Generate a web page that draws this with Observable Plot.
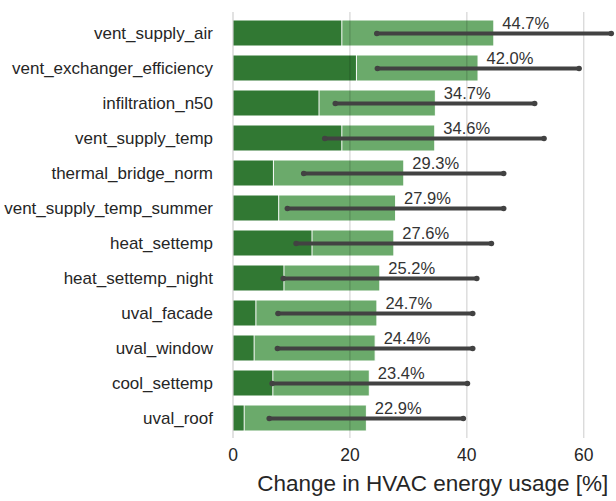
<!DOCTYPE html>
<html>
<head>
<meta charset="utf-8">
<script src="https://cdn.jsdelivr.net/npm/d3@7"></script>
<script src="https://cdn.jsdelivr.net/npm/@observablehq/plot@0.6"></script>
<style>
  html, body { margin: 0; padding: 0; background: white; overflow: hidden; }
  #chart svg { display: block; }
</style>
</head>
<body>
<div id="chart"></div>
<script>
// Parameters, ordered by total HVAC effect
const parameters = [
  "vent_supply_air", "vent_exchanger_efficiency", "infiltration_n50", "vent_supply_temp",
  "thermal_bridge_norm", "vent_supply_temp_summer", "heat_settemp", "heat_settemp_night",
  "uval_facade", "uval_window", "cool_settemp", "uval_roof"
];
// Total change (light bars, labelled)
const totalChange = [44.7, 42.0, 34.7, 34.6, 29.3, 27.9, 27.6, 25.2, 24.7, 24.4, 23.4, 22.9];
// Direct part of the change (dark bars)
const directChange = [18.7, 21.2, 14.8, 18.7, 7.0, 7.9, 13.6, 8.8, 4.0, 3.7, 6.9, 2.0];
// Spread of the change (error bars)
const spreadLow = [24.6, 24.7, 17.5, 15.7, 12.1, 9.3, 10.8, 8.6, 7.7, 7.6, 6.7, 6.2];
const spreadHigh = [64.7, 59.2, 51.6, 53.2, 46.3, 46.3, 44.2, 41.7, 41.0, 41.0, 40.1, 39.4];
const xTicks = [0, 20, 40, 60];
const xLabel = "Change in HVAC energy usage [%]";

const rows = parameters.map((name, i) => ({
  name, total: totalChange[i], direct: directChange[i], lo: spreadLow[i], hi: spreadHigh[i]
}));
// Error-bar end points, drawn as round caps
const ends = rows.flatMap(d => [{ name: d.name, x: d.lo }, { name: d.name, x: d.hi }]);

const chart = Plot.plot({
  width: 616,
  height: 501,
  marginLeft: 232.5,
  marginRight: 0,
  marginTop: 12,
  marginBottom: 63,
  style: { fontFamily: "'Liberation Sans', Arial, sans-serif", background: "white", color: "#262626" },
  x: { domain: [0, 65.6] },
  y: { domain: parameters, paddingInner: 0.26, paddingOuter: 0.14 },
  marks: [
    Plot.barX(rows, { x: "total", y: "name", fill: "#6baa6b", stroke: "white", strokeWidth: 1 }),
    Plot.barX(rows, { x: "direct", y: "name", fill: "#317833", stroke: "white", strokeWidth: 1 }),
    Plot.gridX(xTicks.filter(t => t > 0), { stroke: "#000", strokeOpacity: 0.17, strokeWidth: 1.2 }),
    Plot.ruleX([0], { stroke: "#cfcfcf", strokeWidth: 1.2 }),
    Plot.link(rows, {
      x1: "lo", x2: "hi", y1: "name", y2: "name",
      stroke: "#424242", strokeWidth: 4, strokeLinecap: "round"
    }),
    Plot.dot(ends, { x: "x", y: "name", r: 2.8, fill: "#424242" }),
    Plot.text(rows, {
      x: "total", y: "name", text: d => d.total.toFixed(1) + "%",
      textAnchor: "start", dx: 8, dy: -10, fontSize: 16.5, fill: "#333"
    }),
    Plot.axisY({ tickSize: 0, tickPadding: 20, fontSize: 17, label: null }),
    Plot.axisX({ ticks: xTicks, tickSize: 0, tickPadding: 10, fontSize: 17.5, label: null }),
    Plot.text([xLabel], { frameAnchor: "bottom", text: d => d, dx: 8, dy: 52, fontSize: 22.5, fill: "#262626" })
  ]
});
document.getElementById("chart").append(chart);
</script>
</body>
</html>
